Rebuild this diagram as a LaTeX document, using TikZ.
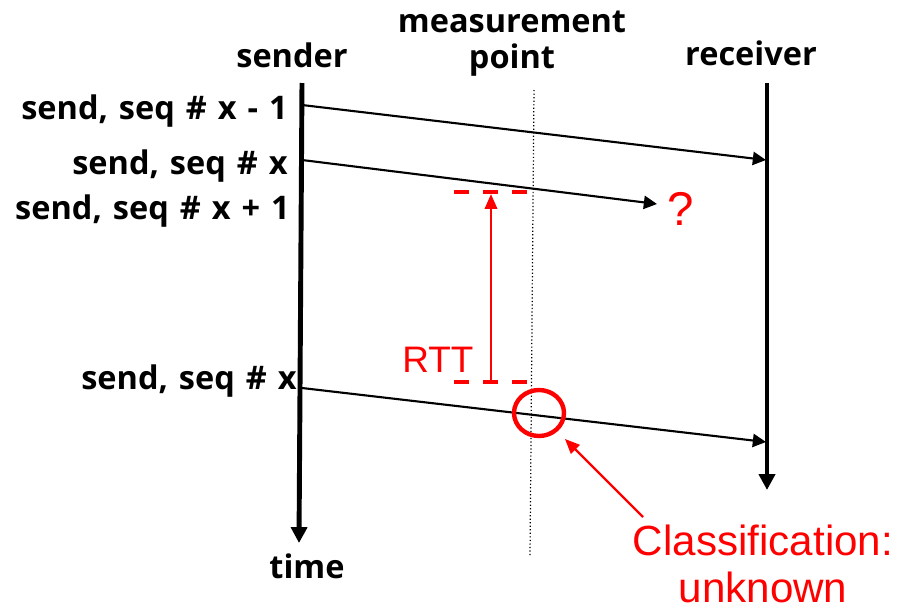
\documentclass[tikz,border=0pt]{standalone}
\usepackage{fontspec}
\setmainfont{Open Sans}[WordSpace=1.3]
\newfontfamily\notefont{Liberation Sans}
\usetikzlibrary{arrows.meta,shapes.geometric}
\definecolor{Alert}{HTML}{FF0000}

\begin{document}
\begin{tikzpicture}[x=0.02cm,y=-0.02cm]
  \tikzstyle{lbl}=[inner sep=0pt, font=\fontsize{18.5}{20}\selectfont\bfseries]
  \tikzstyle{note}=[inner sep=0pt, text=Alert, font=\notefont\fontsize{24}{26.7}\selectfont]
  \tikzstyle{life}=[line width=2.8pt, -{Triangle[length=9pt,width=9pt]}]
  \tikzstyle{msg}=[line width=1.2pt, -{Triangle[length=7.5pt,width=7.5pt]}]
  \tikzstyle{rttbar}=[draw=Alert, line width=2.1pt, dash pattern=on 8.5pt off 8pt]
  \tikzstyle{pointer}=[draw=Alert, line width=1.4pt, -{Triangle[length=8.5pt,width=7pt]}]
  \useasboundingbox (0,0) rectangle (903,609);

  \node[lbl, anchor=base] (snd) at (292,67) {sender};
  \node[lbl, anchor=base, align=center] (mp) at (512,68) {measurement\\point};
  \node[lbl, anchor=base] (rcv) at (751,65) {receiver};
  \node[lbl, anchor=base] (tm) at (307,578) {time};

  \coordinate (st) at (302,83);
  \coordinate (sb) at (299,543);
  \coordinate (rt) at (767,83);
  \coordinate (rb) at (767,490);
  \coordinate (mt) at (534,90);
  \coordinate (mb) at (530,557);
  \draw[life] (st) -- (sb);
  \draw[life] (rt) -- (rb);
  \draw[line width=0.7pt, dash pattern=on 0.7pt off 1.3pt] (mt) -- (mb);

  \node[lbl, anchor=base east] (l1) at (288,119) {send, seq \# x - 1};
  \node[lbl, anchor=base east] (l2) at (288,174) {send, seq \# x};
  \node[lbl, anchor=base east] (l3) at (290,219) {send, seq \# x + 1};
  \node[lbl, anchor=base east] (l4) at (297,389) {send, seq \# x};

  \coordinate (a1) at (302,105);
  \coordinate (b1) at (766,160);
  \coordinate (a2) at (302,160);
  \coordinate (b2) at (657,204);
  \coordinate (a3) at (302,388);
  \coordinate (b3) at (766,442);
  \draw[msg] (a1) -- (b1);
  \draw[msg] (a2) -- (b2);
  \draw[msg] (a3) -- (b3);

  \node[note, font=\notefont\fontsize{27}{30}\selectfont, anchor=base] (q) at (681,225) {?};

  \coordinate (d1) at (454,192);
  \coordinate (d2) at (527,192);
  \coordinate (d3) at (454,382);
  \coordinate (d4) at (527,382);
  \draw[rttbar] (d1) -- (d2);
  \draw[rttbar] (d3) -- (d4);
  \coordinate (rt1) at (491,194);
  \coordinate (rt2) at (491,380);
  \draw[pointer, {Triangle[length=8.5pt,width=7pt]}-] (rt1) -- (rt2);
  \node[note, font=\notefont\fontsize{21}{24}\selectfont, anchor=base] (rtt) at (438,372) {RTT};

  \node[ellipse, draw=Alert, line width=2.5pt, minimum width=1cm, minimum height=0.92cm,
    inner sep=0pt] (cls) at (539,413) {};
  \node[note, anchor=base, align=center] (res) at (763,602) {Classification:\\unknown};
  \coordinate (ptr) at (643,517);
  \draw[pointer, shorten >=6pt] (ptr) -- (cls);
\end{tikzpicture}
\end{document}
